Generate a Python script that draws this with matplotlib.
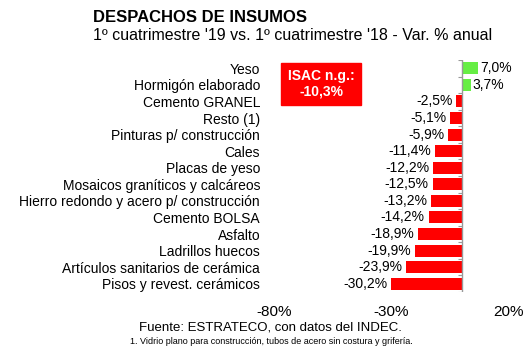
import numpy as np
import matplotlib
matplotlib.use("Agg")
import matplotlib.pyplot as plt

plt.rcParams["font.family"] = ["Liberation Sans", "DejaVu Sans"]

categories = [
    "Yeso", "Hormigón elaborado", "Cemento GRANEL", "Resto (1)",
    "Pinturas p/ construcción", "Cales", "Placas de yeso",
    "Mosaicos graníticos y calcáreos", "Hierro redondo y acero p/ construcción",
    "Cemento BOLSA", "Asfalto", "Ladrillos huecos",
    "Artículos sanitarios de cerámica", "Pisos y revest. cerámicos",
]
values = [7.0, 3.7, -2.5, -5.1, -5.9, -11.4, -12.2, -12.5, -13.2,
          -14.2, -18.9, -19.9, -23.9, -30.2]
xticks = [-80, -30, 20]
isac = -10.3

RED = "#FF0000"
GREEN = "#66EE44"


def pct(v):
    return f"{v:.1f}%".replace(".", ",")


fig = plt.figure(figsize=(5.30, 3.55), dpi=100)
ax = fig.add_axes([274 / 530, 1 - 292 / 355, (509 - 274) / 530, (292 - 60) / 355])

y = np.arange(len(categories))
colors = [GREEN if v > 0 else RED for v in values]
ax.barh(y, values, height=0.72, color=colors, edgecolor="none", zorder=2)

# value labels
for yi, v in zip(y, values):
    if v > 0:
        ax.text(v + 0.8, yi, pct(v), va="center", ha="left", fontsize=10)
    else:
        ax.text(v - 1.6, yi, pct(v), va="center", ha="right", fontsize=10)

# zero axis with small ticks at category boundaries
ax.axvline(0, color="#999999", lw=1, zorder=3)
ax.hlines(np.arange(-0.5, len(categories)), -1.8, 0, color="#999999", lw=0.8, zorder=3)

ax.set_xlim(-80, 20)
ax.set_ylim(len(categories) - 0.5, -0.5)
ax.set_yticks(y)
ax.set_yticklabels(categories, fontsize=10)
ax.set_xticks(xticks)
ax.set_xticklabels([f"{t}%" for t in xticks], fontsize=11)
ax.tick_params(axis="y", length=0, pad=10)
ax.tick_params(axis="x", length=0, pad=9)
for s in ax.spines.values():
    s.set_visible(False)

# ISAC box
ax.text(-60, 0.95, "ISAC n.g.:\n" + pct(isac),
        ha="center", va="center", color="white", fontsize=10, fontweight="bold",
        linespacing=1.1,
        bbox=dict(boxstyle="square,pad=0.45", facecolor=RED, edgecolor=RED))

fig.text(93 / 530, 1 - 18 / 355, "DESPACHOS DE INSUMOS", fontsize=12,
         fontweight="bold", va="center", ha="left")
fig.text(93 / 530, 1 - 36 / 355,
         "1º cuatrimestre '19 vs. 1º cuatrimestre '18 - Var. % anual",
         fontsize=11.5, va="center", ha="left")
fig.text(270 / 530, 1 - 328 / 355, "Fuente: ESTRATECO, con datos del INDEC.",
         fontsize=9.5, va="center", ha="center")
fig.text(271 / 530, 1 - 341 / 355,
         "1. Vidrio plano para construcción, tubos de acero sin costura y grifería.",
         fontsize=6.5, va="center", ha="center")

plt.savefig("out.png", dpi=100)
plt.close()
